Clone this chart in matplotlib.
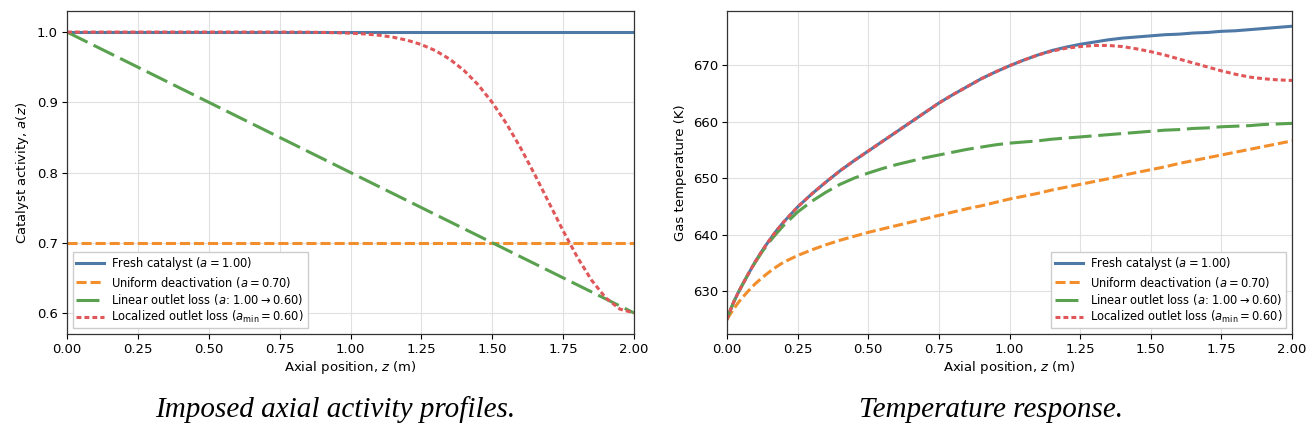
import matplotlib
matplotlib.use("Agg")
import matplotlib.pyplot as plt

# ---------------- data ----------------
z_act = [0.00, 0.05, 0.10, 0.15, 0.20, 0.25, 0.30, 0.35, 0.40, 0.45, 0.50, 0.55, 0.60, 0.65,
         0.70, 0.75, 0.80, 0.85, 0.90, 0.95, 1.00, 1.05, 1.10, 1.15, 1.20, 1.25, 1.30, 1.35,
         1.40, 1.45, 1.50, 1.55, 1.60, 1.65, 1.70, 1.75, 1.80, 1.85, 1.90, 1.95, 2.00]

act_fresh = [1.00] * 41
act_uniform = [0.70] * 41
act_linear_ends = [1.00, 0.60]
z_linear_ends = [0.00, 2.00]
act_local = [1.0000, 1.0000, 1.0000, 1.0000, 1.0000, 1.0000, 1.0000, 1.0000, 1.0000, 1.0000,
             1.0000, 1.0000, 1.0000, 1.0000, 1.0000, 1.0000, 0.9999, 0.9998, 0.9995, 0.9991,
             0.9984, 0.9973, 0.9955, 0.9927, 0.9884, 0.9822, 0.9735, 0.9614, 0.9455, 0.9250,
             0.8998, 0.8696, 0.8350, 0.7970, 0.7570, 0.7170, 0.6795, 0.6468, 0.6216, 0.6055,
             0.6000]

z_T = [0.0, 0.0125, 0.025, 0.0375, 0.05, 0.075, 0.10, 0.125, 0.15, 0.175, 0.20,
       0.25, 0.30, 0.35, 0.40, 0.45, 0.50, 0.55, 0.60, 0.65, 0.70, 0.75, 0.80, 0.85, 0.90,
       0.95, 1.00, 1.05, 1.10, 1.15, 1.20, 1.25, 1.30, 1.35, 1.40, 1.45, 1.50, 1.55, 1.60,
       1.65, 1.70, 1.75, 1.80, 1.85, 1.90, 1.95, 2.00]
T_fresh = [625.0, 626.7, 628.2, 629.5, 630.7, 633.0, 635.2, 637.2, 639.0, 640.7, 642.2,
           644.9, 647.2, 649.3, 651.3, 653.1, 654.8, 656.5, 658.2, 659.9, 661.6, 663.3, 664.8,
           666.2, 667.6, 668.8, 669.9, 670.9, 671.8, 672.6, 673.2, 673.7, 674.1, 674.5, 674.8,
           675.0, 675.2, 675.4, 675.5, 675.7, 675.8, 676.0, 676.1, 676.3, 676.5, 676.7, 676.9]
T_uniform = [625.0, 626.0, 626.9, 627.8, 628.6, 630.0, 631.3, 632.4, 633.4, 634.3, 635.1,
             636.3, 637.3, 638.2, 639.0, 639.7, 640.4, 641.0, 641.6, 642.2, 642.8, 643.4, 644.0,
             644.6, 645.1, 645.7, 646.3, 646.8, 647.3, 647.9, 648.4, 648.9, 649.4, 649.9, 650.5,
             651.0, 651.5, 652.0, 652.6, 653.1, 653.6, 654.1, 654.6, 655.1, 655.6, 656.1, 656.6]
T_linear = [625.0, 626.7, 628.2, 629.5, 630.7, 633.0, 635.1, 637.0, 638.7, 640.2, 641.6,
            644.0, 645.9, 647.5, 648.9, 650.0, 650.9, 651.7, 652.4, 653.0, 653.6, 654.1, 654.6,
            655.1, 655.5, 655.9, 656.2, 656.4, 656.6, 656.9, 657.1, 657.3, 657.5, 657.7, 657.9,
            658.1, 658.3, 658.5, 658.6, 658.8, 658.9, 659.1, 659.2, 659.3, 659.5, 659.6, 659.7]
T_local = [625.0, 626.7, 628.2, 629.5, 630.7, 633.0, 635.2, 637.2, 639.0, 640.7, 642.2,
           644.9, 647.2, 649.3, 651.3, 653.1, 654.8, 656.5, 658.2, 659.9, 661.6, 663.3, 664.8,
           666.2, 667.6, 668.8, 669.9, 670.9, 671.8, 672.5, 673.0, 673.3, 673.5, 673.5, 673.3,
           672.9, 672.4, 671.8, 671.1, 670.4, 669.7, 669.0, 668.4, 667.9, 667.6, 667.4, 667.3]

labels = [r"Fresh catalyst ($a = 1.00$)",
          r"Uniform deactivation ($a = 0.70$)",
          r"Linear outlet loss ($a$: $1.00 \rightarrow 0.60$)",
          r"Localized outlet loss ($a_{\min} = 0.60$)"]

xticks = [0.00, 0.25, 0.50, 0.75, 1.00, 1.25, 1.50, 1.75, 2.00]
act_yticks = [0.6, 0.7, 0.8, 0.9, 1.0]
T_yticks = [630, 640, 650, 660, 670]

captions = ["Imposed axial activity profiles.", "Temperature response."]

# ---------------- style ----------------
colors = ["#4e79a7", "#f28e2b", "#59a14f", "#e15759"]
styles = ["-", (0, (3.3, 1.3)), (0, (7.5, 2.2)), (0, (1.6, 1.0))]
lw = 2.2

plt.rcParams['font.family'] = ['DejaVu Sans']
plt.rcParams['mathtext.fontset'] = 'dejavusans'

fig = plt.figure(figsize=(13.14, 4.38), dpi=100)
ax1 = fig.add_axes([67 / 1314, 104 / 438, 567 / 1314, 323 / 438])
ax2 = fig.add_axes([727 / 1314, 104 / 438, 565 / 1314, 323 / 438])

ax1.plot(z_act, act_fresh, color=colors[0], ls=styles[0], lw=lw, label=labels[0])
ax1.plot(z_act, act_uniform, color=colors[1], ls=styles[1], lw=lw, label=labels[1])
ax1.plot(z_linear_ends, act_linear_ends, color=colors[2], ls=styles[2], lw=lw, label=labels[2])
ax1.plot(z_act, act_local, color=colors[3], ls=styles[3], lw=lw, label=labels[3])

ax2.plot(z_T, T_fresh, color=colors[0], ls=styles[0], lw=lw, label=labels[0])
ax2.plot(z_T, T_uniform, color=colors[1], ls=styles[1], lw=lw, label=labels[1])
ax2.plot(z_T, T_linear, color=colors[2], ls=styles[2], lw=lw, label=labels[2])
ax2.plot(z_T, T_local, color=colors[3], ls=styles[3], lw=lw, label=labels[3])

ax1.set_xlim(0, 2.0)
ax1.set_ylim(0.57, 1.03)
ax1.set_yticks(act_yticks)
ax1.set_ylabel(r"Catalyst activity, $a(z)$", fontsize=9.5)

ax2.set_xlim(0, 2.0)
ax2.set_ylim(622.4, 679.6)
ax2.set_yticks(T_yticks)
ax2.set_ylabel("Gas temperature (K)", fontsize=9.5)

for ax in (ax1, ax2):
    ax.set_xticks(xticks)
    ax.set_xticklabels([f"{v:.2f}" for v in xticks])
    ax.set_xlabel(r"Axial position, $z$ (m)", fontsize=9.5, labelpad=2)
    ax.tick_params(labelsize=9.5, length=3.5, width=0.8, pad=3)
    ax.grid(True, color="#e0e0e0", lw=0.8)
    ax.set_axisbelow(True)
    for s in ax.spines.values():
        s.set_color("#333333")
        s.set_linewidth(0.9)

leg_kw = dict(fontsize=8.3, frameon=True, fancybox=False, edgecolor="#cccccc",
              handlelength=2.4, handletextpad=0.65, borderpad=0.3, labelspacing=0.18,
              framealpha=1.0)
ax1.legend(loc="lower left", **leg_kw)
ax2.legend(loc="lower right", **leg_kw)

fig.text(0.255, 0.064, captions[0], ha="center", va="center", fontsize=21,
         family="Liberation Serif", style="italic")
fig.text(0.754, 0.064, captions[1], ha="center", va="center", fontsize=21,
         family="Liberation Serif", style="italic")

fig.savefig("out.png", dpi=100)
